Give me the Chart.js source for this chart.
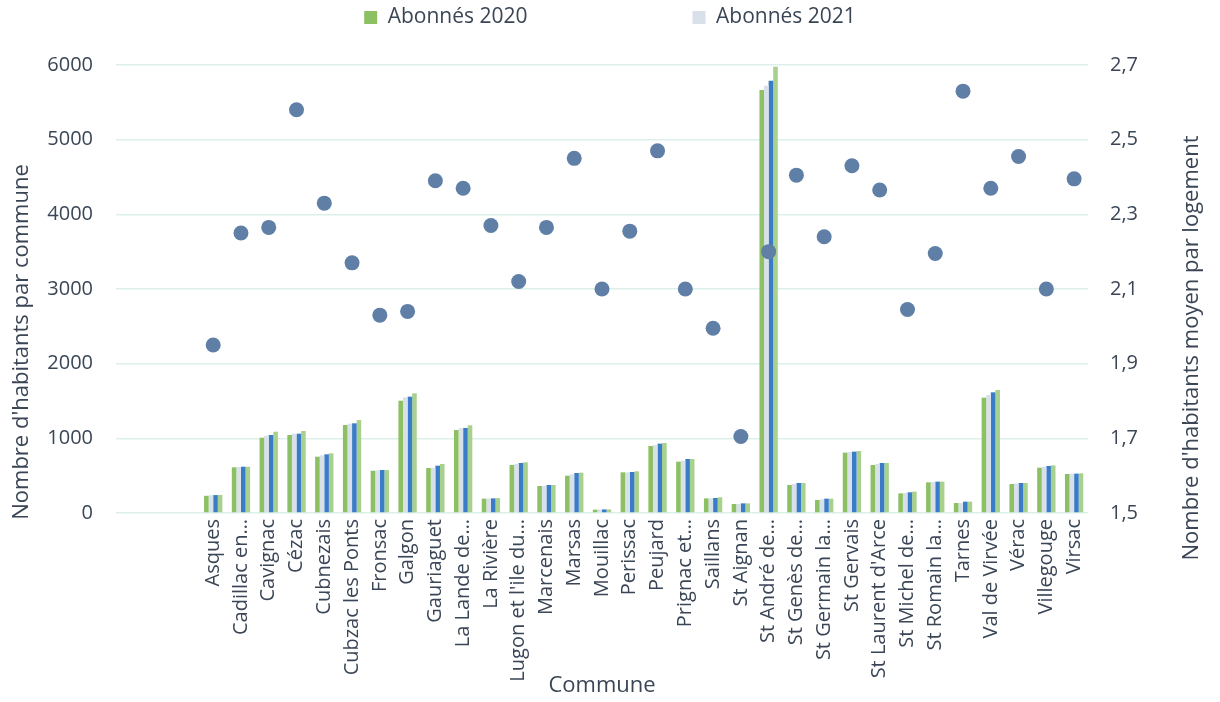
<!DOCTYPE html>
<html>
<head>
<meta charset="utf-8">
<script src="https://cdn.jsdelivr.net/npm/chart.js@4/dist/chart.umd.min.js"></script>
<style>
  html, body { margin: 0; padding: 0; background: #fff; }
  #chart { display: block; }
</style>
</head>
<body>
<canvas id="chart" width="1220" height="702"></canvas>
<script>
// the three leading blank categories are part of the original axis
const communes = ["", "", "", "Asques", "Cadillac en…", "Cavignac", "Cézac", "Cubnezais", "Cubzac les Ponts",
  "Fronsac", "Galgon", "Gauriaguet", "La Lande de…", "La Rivière", "Lugon et l'ile du…", "Marcenais",
  "Marsas", "Mouillac", "Perissac", "Peujard", "Prignac et…", "Saillans", "St Aignan", "St André de…",
  "St Genès de…", "St Germain la…", "St Gervais", "St Laurent d'Arce", "St Michel de…", "St Romain la…",
  "Tarnes", "Val de Virvée", "Vérac", "Villegouge", "Virsac"];

const abonnes2020 = [null, null, null, 230, 612, 1008, 1045, 754, 1178, 566, 1504, 603, 1112, 192, 643, 362,
  500, 45, 545, 897, 688, 196, 121, 5665, 375, 174, 808, 643, 263, 411, 134, 1545, 388, 607, 522];
const abonnes2021 = [null, null, null, 238, 615, 1035, 1062, 772, 1196, 572, 1549, 607, 1134, 194, 656, 362,
  518, 45, 545, 911, 701, 196, 121, 5723, 388, 183, 817, 656, 268, 415, 134, 1581, 397, 621, 527];
const serie3 = [null, null, null, 240, 620, 1045, 1062, 786, 1201, 576, 1558, 634, 1139, 196, 670, 375,
  536, 48, 549, 929, 723, 201, 129, 5790, 402, 192, 822, 670, 277, 420, 152, 1616, 402, 630, 527];
const serie4 = [null, null, null, 242, 620, 1089, 1098, 799, 1245, 576, 1603, 656, 1174, 200, 679, 375,
  540, 48, 558, 938, 723, 210, 129, 5977, 402, 192, 830, 670, 286, 420, 152, 1648, 402, 638, 531];

const habParLogement = [null, null, null, 1.95, 2.25, 2.265, 2.58, 2.33, 2.17, 2.03, 2.04, 2.39, 2.37, 2.27,
  2.12, 2.265, 2.45, 2.10, 2.255, 2.47, 2.10, 1.995, 1.705, 2.20, 2.405, 2.24, 2.43, 2.365, 2.045, 2.195,
  2.63, 2.37, 2.455, 2.10, 2.395];

const leftTicks = { min: 0, max: 6000, step: 1000 };
const rightTicks = { min: 1.5, max: 2.7, step: 0.2 };

const textColor = "#3a4656";
const fontFamily = "'Open Sans', sans-serif";
Chart.defaults.font.family = fontFamily;
Chart.defaults.color = textColor;

const axisTitles = {
  id: "axisTitles",
  afterDraw(chart) {
    const ctx = chart.ctx;
    ctx.save();
    ctx.fillStyle = textColor;
    ctx.font = "22px " + fontFamily;
    ctx.textAlign = "center";
    ctx.textBaseline = "middle";
    ctx.fillText("Commune", (chart.chartArea.left + chart.chartArea.right) / 2, 686);

    ctx.translate(22, 342);
    ctx.rotate(-Math.PI / 2);
    ctx.fillText("Nombre d'habitants par commune", 0, 0);
    ctx.restore();

    ctx.save();
    ctx.fillStyle = textColor;
    ctx.font = "22px " + fontFamily;
    ctx.textAlign = "center";
    ctx.textBaseline = "middle";
    ctx.translate(1192, 348);
    ctx.rotate(-Math.PI / 2);
    ctx.fillText("Nombre d'habitants moyen par logement", 0, 0);
    ctx.restore();
  }
};

const legendPlace = {
  id: "legendPlace",
  beforeInit(chart) {
    const fit = chart.legend.fit;
    chart.legend.fit = function () {
      fit.call(this);
      this.height = 65;
    };
  },
  afterLayout(chart) {
    chart.legend.top = 7 - chart.legend.options.labels.padding;
  }
};

new Chart(document.getElementById("chart"), {
  data: {
    labels: communes,
    datasets: [
      {
        type: "line",
        label: "Nombre d'habitants moyen par logement",
        data: habParLogement,
        yAxisID: "y1",
        showLine: false,
        pointRadius: 7.5,
        pointBackgroundColor: "#5f7fa6",
        pointBorderWidth: 0,
        order: 0
      },
      { type: "bar", label: "Abonnés 2020", data: abonnes2020, backgroundColor: "#8dc063", order: 1 },
      { type: "bar", label: "Abonnés 2021", data: abonnes2021, backgroundColor: "#d8e0e9", order: 1 },
      { type: "bar", label: "Série 3", data: serie3, backgroundColor: "#3a7cc7", order: 1 },
      { type: "bar", label: "Série 4", data: serie4, backgroundColor: "#a9d18e", order: 1 }
    ]
  },
  options: {
    responsive: false,
    animation: false,
    layout: { padding: 0 },
    datasets: {
      bar: { categoryPercentage: 0.66, barPercentage: 1.0 }
    },
    plugins: {
      tooltip: { enabled: false },
      legend: {
        display: true,
        position: "top",
        labels: {
          padding: 165,
          boxWidth: 13,
          boxHeight: 13,
          color: textColor,
          font: { size: 21 },
          filter: (item) => item.text === "Abonnés 2020" || item.text === "Abonnés 2021"
        }
      }
    },
    scales: {
      x: {
        grid: { display: false, drawTicks: false },
        border: { display: false },
        ticks: {
          autoSkip: false,
          minRotation: 90,
          maxRotation: 90,
          padding: 6,
          color: textColor,
          font: { size: 20 }
        },
        afterFit(scale) { scale.height = 189; }
      },
      y: {
        position: "left",
        min: leftTicks.min,
        max: leftTicks.max,
        ticks: {
          stepSize: leftTicks.step,
          padding: 23,
          color: textColor,
          font: { size: 20 },
          callback: (v) => String(v)
        },
        grid: { color: "#dcefe9", lineWidth: 1.5, drawTicks: false },
        border: { display: false },
        afterFit(scale) { scale.width = 116; }
      },
      y1: {
        position: "right",
        min: rightTicks.min,
        max: rightTicks.max,
        ticks: {
          stepSize: rightTicks.step,
          padding: 22,
          color: textColor,
          font: { size: 20 },
          callback: (v) => v.toFixed(1).replace(".", ",")
        },
        grid: { display: false, drawTicks: false },
        border: { display: false },
        afterFit(scale) { scale.width = 132; }
      }
    }
  },
  plugins: [legendPlace, axisTitles]
});
</script>
</body>
</html>
